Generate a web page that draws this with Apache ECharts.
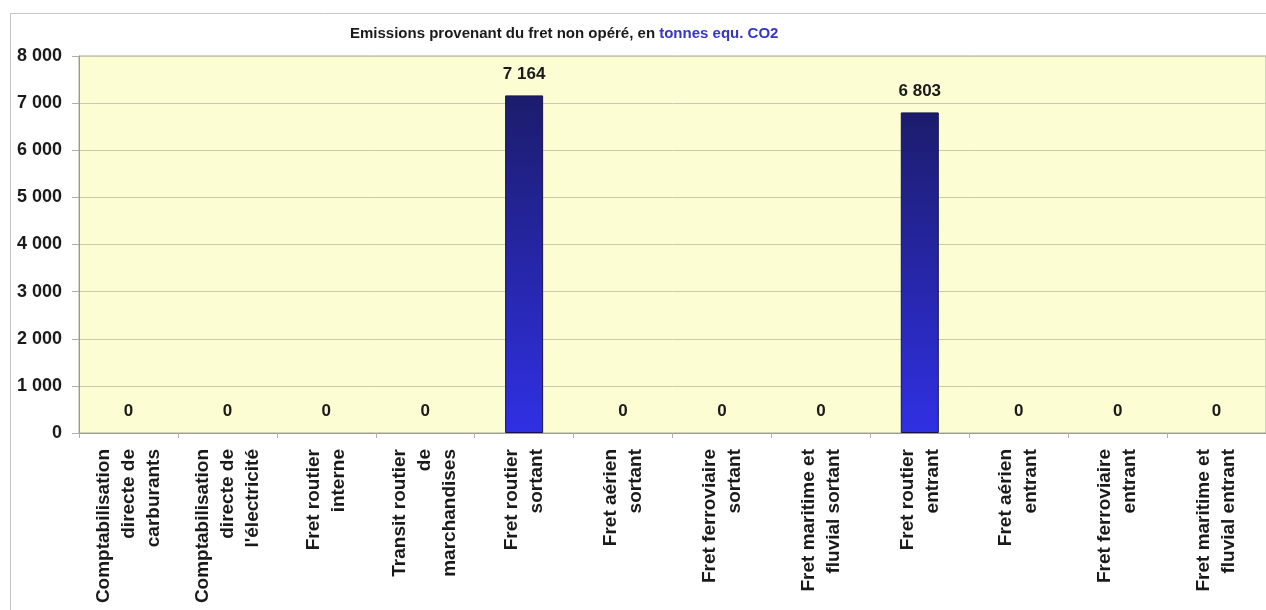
<!DOCTYPE html>
<html>
<head>
<meta charset="utf-8">
<script src="https://cdn.jsdelivr.net/npm/echarts@6/dist/echarts.min.js"></script>
<style>
  html, body { margin: 0; padding: 0; background: #ffffff; }
  #chart { width: 1266px; height: 610px; }
</style>
</head>
<body>
<div id="chart"></div>
<script>
// Categories of non-operated freight (labels wrapped as displayed)
const categories = [
  'Comptabilisation\ndirecte de\ncarburants',
  'Comptabilisation\ndirecte de\nl\'électricité',
  'Fret routier\ninterne',
  'Transit routier\nde\nmarchandises',
  'Fret routier\nsortant',
  'Fret aérien\nsortant',
  'Fret ferroviaire\nsortant',
  'Fret maritime et\nfluvial sortant',
  'Fret routier\nentrant',
  'Fret aérien\nentrant',
  'Fret ferroviaire\nentrant',
  'Fret maritime et\nfluvial entrant'
];

// Emissions in tonnes CO2 equivalent
const emissions = [0, 0, 0, 0, 7164, 0, 0, 0, 6803, 0, 0, 0];

// Y axis range and step
const yMin = 0;
const yMax = 8000;
const yStep = 1000;

function formatThousands(v) {
  return String(v).replace(/\B(?=(\d{3})+(?!\d))/g, ' ');
}

const chart = echarts.init(document.getElementById('chart'));

const fontFamily = 'Liberation Sans, Arial, Helvetica, sans-serif';

// zero-height bars get no outline so no stray line sits on the axis
const barData = emissions.map(function (v) {
  return v === 0 ? { value: v, itemStyle: { borderWidth: 0 } } : v;
});

chart.setOption({
  animation: false,
  backgroundColor: '#ffffff',
  graphic: [{
    type: 'rect',
    shape: { x: 10.5, y: 13.5, width: 1300, height: 700 },
    style: { fill: 'none', stroke: '#c4c4c4', lineWidth: 1 },
    silent: true,
    z: -1
  }],
  title: {
    text: '{a|Emissions provenant du fret non opéré, en }{b|tonnes equ. CO2}',
    left: 345,
    top: 21,
    textStyle: {
      rich: {
        a: { fontFamily: fontFamily, fontWeight: 'bold', fontSize: 15, color: '#1a1a1a' },
        b: { fontFamily: fontFamily, fontWeight: 'bold', fontSize: 15, color: '#3535c8' }
      }
    }
  },
  grid: {
    left: 79,
    right: 0,
    top: 56,
    bottom: 177,
    show: true,
    backgroundColor: '#fdfdd3',
    borderColor: '#a9a99c',
    borderWidth: 1
  },
  xAxis: {
    type: 'category',
    data: categories,
    axisLine: { lineStyle: { color: '#9a9a90', width: 1 } },
    axisTick: { show: true, length: 5, lineStyle: { color: '#b0b0a8' } },
    axisLabel: {
      interval: 0,
      rotate: 90,
      margin: 16,
      fontFamily: fontFamily,
      fontWeight: 'bold',
      fontSize: 19,
      lineHeight: 25,
      color: '#1a1a1a',
      align: 'right'
    }
  },
  yAxis: {
    type: 'value',
    min: yMin,
    max: yMax,
    interval: yStep,
    axisLine: { show: true, lineStyle: { color: '#9a9a90' } },
    axisTick: { show: true, length: 7, lineStyle: { color: '#b0b0a8' } },
    splitLine: { show: true, lineStyle: { color: '#c9c9b0', width: 1 } },
    axisLabel: {
      margin: 17,
      fontFamily: fontFamily,
      fontWeight: 'bold',
      fontSize: 18,
      color: '#1a1a1a',
      formatter: formatThousands
    }
  },
  series: [{
    type: 'bar',
    data: barData,
    barWidth: 38,
    itemStyle: {
      color: new echarts.graphic.LinearGradient(0, 0, 0, 1, [
        { offset: 0, color: '#1c1c6c' },
        { offset: 1, color: '#3030e4' }
      ]),
      borderColor: '#141448',
      borderWidth: 1
    },
    label: {
      show: true,
      position: 'top',
      distance: 13,
      fontFamily: fontFamily,
      fontWeight: 'bold',
      fontSize: 17,
      color: '#1a1a1a',
      formatter: function (p) { return formatThousands(p.value); }
    }
  }]
});
</script>
</body>
</html>
